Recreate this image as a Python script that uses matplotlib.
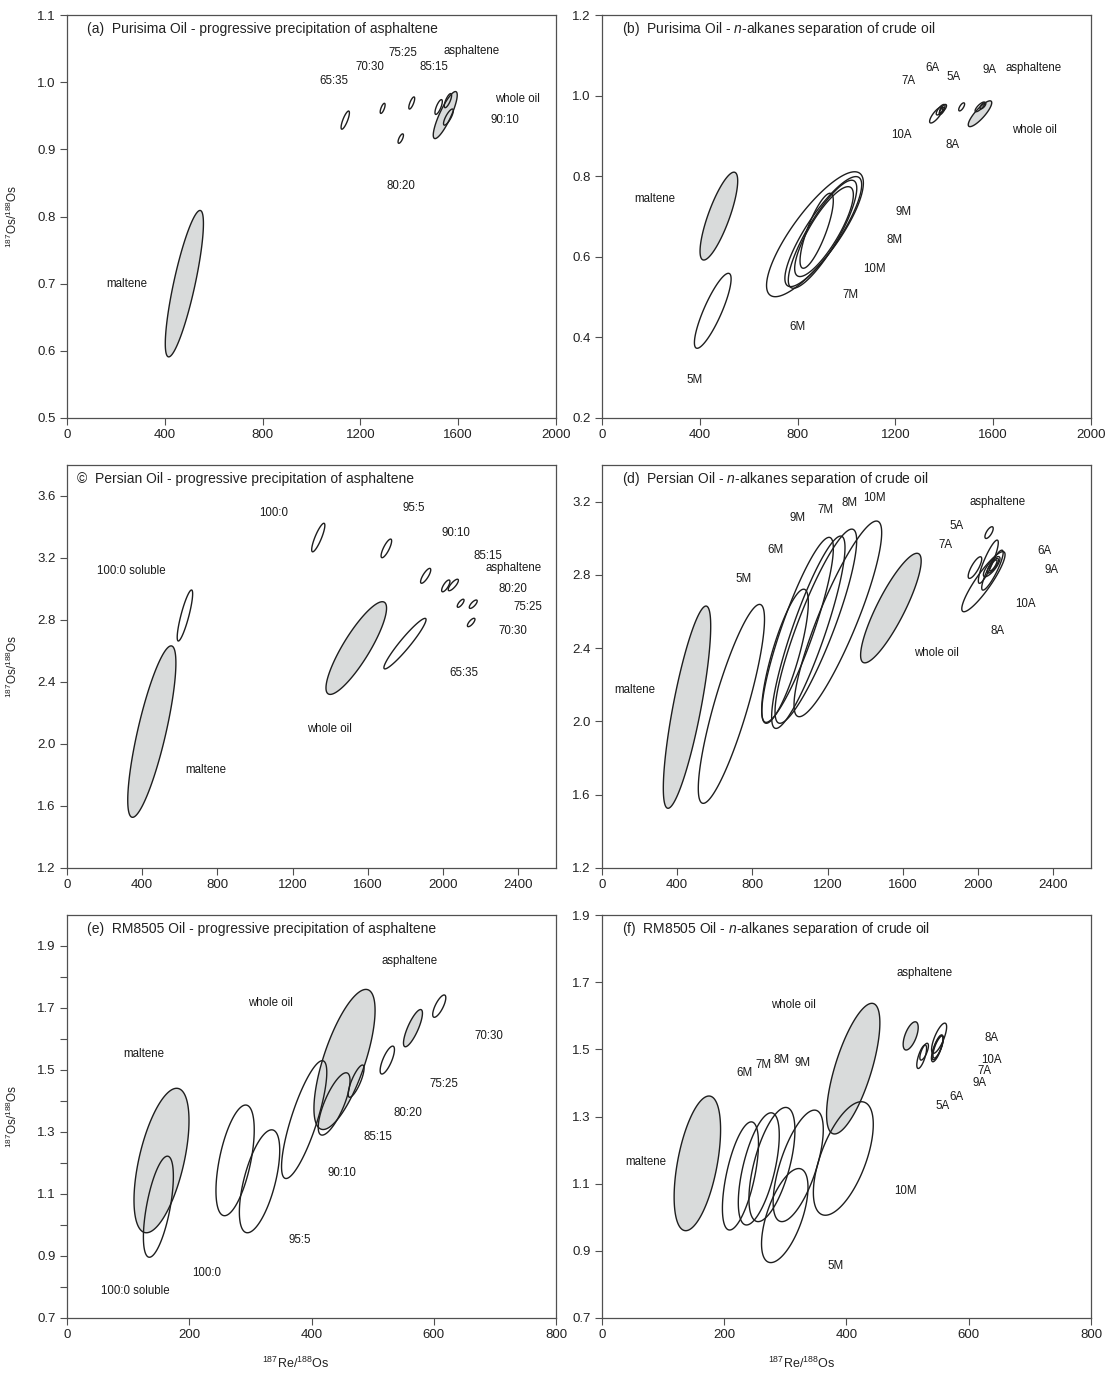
import numpy as np
import matplotlib
matplotlib.use("Agg")
from matplotlib import pyplot as plt
from matplotlib.patches import Polygon

plt.rcParams['font.family'] = ['Liberation Sans', 'DejaVu Sans']
plt.rcParams['mathtext.fontset'] = 'custom'
plt.rcParams['mathtext.rm'] = 'Liberation Sans'
plt.rcParams['mathtext.it'] = 'Liberation Sans:italic'

# ---- data: error ellipses (centre x, centre y, 2s half range x, half range y, rho) ----
# (a) Purisima - progressive precipitation
a_cx = [480, 1547, 1138, 1291, 1410, 1365, 1520, 1558, 1560]
a_cy = [0.700, 0.951, 0.9435, 0.961, 0.969, 0.916, 0.963, 0.9725, 0.948]
a_sx = [78, 49, 17, 10, 12, 11, 15, 15, 20]
a_sy = [0.109, 0.035, 0.0135, 0.0075, 0.009, 0.007, 0.011, 0.0105, 0.012]
a_rho = [0.82, 0.85, 0.8, 0.7, 0.75, 0.7, 0.75, 0.75, 0.8]
a_grey = [0, 1]

# (b) Purisima - n-alkanes separation
b_cx = [478, 1546, 453, 871, 905, 902, 908, 878, 1367, 1385, 1395, 1390, 1471, 1546, 1558]
b_cy = [0.701, 0.955, 0.466, 0.656, 0.6625, 0.656, 0.6625, 0.6646, 0.952, 0.965, 0.968,
        0.962, 0.972, 0.972, 0.975]
b_sx = [77, 48, 75, 198, 157, 140, 120, 68, 27, 18, 14, 11, 12, 20, 12]
b_sy = [0.109, 0.032, 0.093, 0.155, 0.1365, 0.134, 0.1115, 0.093, 0.020, 0.013, 0.010,
        0.009, 0.010, 0.012, 0.008]
b_rho = [0.8, 0.85, 0.85, 0.82, 0.85, 0.85, 0.82, 0.8, 0.8, 0.75, 0.7, 0.7, 0.7, 0.8, 0.7]
b_grey = [0, 1]

# (c) Persian - progressive precipitation
c_cx = [451, 1538, 627, 1797, 1336, 1698, 1907, 2014, 2054, 2093, 2160, 2149]
c_cy = [2.080, 2.619, 2.829, 2.6475, 3.332, 3.262, 3.085, 3.02, 3.026, 2.908, 2.902, 2.784]
c_sx = [128, 161, 41, 112, 35, 28, 27, 22, 27, 18, 21, 20]
c_sy = [0.553, 0.299, 0.1645, 0.163, 0.092, 0.06, 0.048, 0.038, 0.037, 0.026, 0.027, 0.027]
c_rho = [0.8, 0.86, 0.85, 0.95, 0.85, 0.8, 0.8, 0.75, 0.8, 0.75, 0.75, 0.75]
c_grey = [0, 1]

# (d) Persian - n-alkanes separation
d_cx = [452, 1536, 688, 973, 1040, 1097, 1137, 1254, 2058, 2028, 1983, 2054, 2076, 2072,
        2078, 2080]
d_cy = [2.078, 2.619, 2.096, 2.356, 2.50, 2.487, 2.52, 2.56, 3.031, 2.763, 2.84, 2.872,
        2.826, 2.845, 2.85, 2.852]
d_sx = [126, 161, 176, 124, 190, 195, 217, 233, 22, 115, 36, 53, 57, 44, 30, 20]
d_sy = [0.552, 0.299, 0.543, 0.366, 0.505, 0.525, 0.53, 0.534, 0.032, 0.164, 0.059, 0.118,
        0.109, 0.055, 0.04, 0.03]
d_rho = [0.8, 0.86, 0.85, 0.8, 0.88, 0.88, 0.88, 0.88, 0.7, 0.9, 0.8, 0.88, 0.88, 0.8,
         0.8, 0.8]
d_grey = [0, 1]

# (e) RM8505 - progressive precipitation
e_cx = [154.6, 454, 566, 149.5, 275, 315, 388, 437, 473, 524, 609]
e_cy = [1.208, 1.534, 1.635, 1.059, 1.2085, 1.141, 1.340, 1.3905, 1.464, 1.532, 1.706]
e_sx = [45, 50, 15.5, 24.5, 31.3, 33, 37, 26, 13, 11.7, 10.7]
e_sy = [0.233, 0.226, 0.06, 0.163, 0.1785, 0.166, 0.19, 0.1005, 0.052, 0.045, 0.036]
e_rho = [0.55, 0.7, 0.8, 0.6, 0.55, 0.6, 0.8, 0.75, 0.8, 0.75, 0.75]
e_grey = [0, 1, 2]

# (f) RM8505 - n-alkanes separation
f_cx = [156, 411, 505, 299, 226.5, 256.5, 278, 321, 394.8, 523, 527, 551.5, 548.5, 549, 550]
f_cy = [1.1605, 1.4425, 1.540, 1.005, 1.123, 1.144, 1.157, 1.153, 1.175, 1.478, 1.493,
        1.533, 1.503, 1.505, 1.507]
f_sx = [38, 43.6, 12.3, 38, 29.5, 33.5, 37.6, 41, 49, 8, 7, 12.3, 9.5, 9, 8.5]
f_sy = [0.2005, 0.1945, 0.042, 0.14, 0.161, 0.167, 0.17, 0.166, 0.169, 0.035, 0.025,
        0.045, 0.04, 0.036, 0.033]
f_rho = [0.5, 0.7, 0.6, 0.6, 0.6, 0.6, 0.6, 0.65, 0.6, 0.7, 0.7, 0.75, 0.75, 0.75, 0.75]
f_grey = [0, 1, 2]

# ---- text labels ----
a_text = ['65:35', '70:30', '75:25', '85:15', 'asphaltene', 'whole oil', '90:10', '80:20',
          'maltene']
b_text = ['6A', '7A', '5A', '9A', 'asphaltene', '10A', '8A', 'whole oil', 'maltene', '9M',
          '8M', '10M', '7M', '6M', '5M']
c_text = ['100:0', '95:5', '90:10', '85:15', 'asphaltene', '80:20', '75:25', '70:30',
          '65:35', '100:0 soluble', 'whole oil', 'maltene']
d_text = ['9M', '7M', '8M', '10M', '6M', '5M', 'asphaltene', '5A', '7A', '6A', '9A', '10A',
          '8A', 'whole oil', 'maltene']
e_text = ['asphaltene', 'whole oil', 'maltene', '70:30', '75:25', '80:20', '85:15', '90:10',
          '95:5', '100:0', '100:0 soluble']
f_text = ['asphaltene', 'whole oil', '6M', '7M', '8M', '9M', 'maltene', '10M', '5M', '8A',
          '10A', '7A', '9A', '6A', '5A']

# label positions (data coords)
a_pos = [(1092, 1.002), (1239, 1.023), (1373, 1.044), (1501, 1.023), (1656, 1.047),
         (1841, 0.975), (1791, 0.943), (1365, 0.845), (244, 0.700)]
b_pos = [(1350, 1.068), (1253, 1.037), (1437, 1.047), (1584, 1.064), (1764, 1.068),
         (1223, 0.902), (1433, 0.877), (1768, 0.915), (217, 0.743), (1235, 0.712),
         (1198, 0.642), (1114, 0.569), (1018, 0.505), (799, 0.427), (380, 0.294)]
c_pos = [(1099, 3.488), (1845, 3.521), (2068, 3.363), (2238, 3.215), (2373, 3.134),
         (2373, 2.998), (2449, 2.886), (2373, 2.731), (2111, 2.456), (340, 3.116),
         (1398, 2.095), (739, 1.832)]
d_pos = [(1039, 3.109), (1186, 3.154), (1314, 3.194), (1448, 3.221), (925, 2.936),
         (751, 2.778), (2101, 3.200), (1886, 3.067), (1828, 2.963), (2355, 2.930),
         (2391, 2.827), (2249, 2.639), (2104, 2.495), (1779, 2.375), (172, 2.172)]
e_pos = [(561, 1.853), (333, 1.715), (126, 1.552), (691, 1.610), (616, 1.455), (557, 1.362),
         (509, 1.283), (449, 1.167), (381, 0.952), (228, 0.844), (111, 0.788)]
f_pos = [(527, 1.728), (313, 1.632), (233, 1.429), (265, 1.453), (293, 1.468), (328, 1.460),
         (72, 1.166), (496, 1.079), (382, 0.855), (637, 1.533), (637, 1.468), (625, 1.434),
         (618, 1.399), (580, 1.359), (557, 1.331)]

titles = ['(a)  Purisima Oil - progressive precipitation of asphaltene',
          '(b)  Purisima Oil - $\\it{n}$-alkanes separation of crude oil',
          '\u00a9  Persian Oil - progressive precipitation of asphaltene',
          '(d)  Persian Oil - $\\it{n}$-alkanes separation of crude oil',
          '(e)  RM8505 Oil - progressive precipitation of asphaltene',
          '(f)  RM8505 Oil - $\\it{n}$-alkanes separation of crude oil']

grey = '#d9dbdb'
spine_col = '#505050'


def draw_ellipse(ax, cx, cy, sx, sy, rho, filled):
    # error ellipse from the x / y half ranges and the correlation
    t = np.linspace(0, 2 * np.pi, 240, endpoint=False)
    x = cx + sx * np.cos(t)
    y = cy + sy * (rho * np.cos(t) + np.sqrt(1 - rho ** 2) * np.sin(t))
    poly = Polygon(np.column_stack([x, y]), closed=True,
                   facecolor=grey if filled else 'none', edgecolor='#1e1e1e',
                   lw=1.0, zorder=2 if filled else 4, joinstyle='round')
    ax.add_patch(poly)


fig = plt.figure(figsize=(11.17, 13.74), dpi=100)
W, H = 1117.0, 1374.0
lefts = [67, 602]
bottoms = [418, 868, 1318]

panels = [
    (a_cx, a_cy, a_sx, a_sy, a_rho, a_grey, a_text, a_pos),
    (b_cx, b_cy, b_sx, b_sy, b_rho, b_grey, b_text, b_pos),
    (c_cx, c_cy, c_sx, c_sy, c_rho, c_grey, c_text, c_pos),
    (d_cx, d_cy, d_sx, d_sy, d_rho, d_grey, d_text, d_pos),
    (e_cx, e_cy, e_sx, e_sy, e_rho, e_grey, e_text, e_pos),
    (f_cx, f_cy, f_sx, f_sy, f_rho, f_grey, f_text, f_pos),
]
xlims = [(0, 2000), (0, 2000), (0, 2600), (0, 2600), (0, 800), (0, 800)]
xticks = [np.arange(0, 2001, 400), np.arange(0, 2001, 400), np.arange(0, 2401, 400),
          np.arange(0, 2401, 400), np.arange(0, 801, 200), np.arange(0, 801, 200)]
ylims = [(0.5, 1.1), (0.2, 1.2), (1.2, 3.8), (1.2, 3.4), (0.7, 2.0), (0.7, 1.9)]
yticks = [np.arange(0.5, 1.101, 0.1), np.arange(0.2, 1.201, 0.2), np.arange(1.2, 3.601, 0.4),
          np.arange(1.2, 3.201, 0.4), np.arange(0.7, 1.901, 0.1), np.arange(0.7, 1.901, 0.2)]

for k, (cx, cy, sx, sy, rho, gidx, txt, pos) in enumerate(panels):
    row, col = k // 2, k % 2
    ax = fig.add_axes([lefts[col] / W, 1 - bottoms[row] / H, 489 / W, 403 / H])
    for i in range(len(cx)):
        draw_ellipse(ax, cx[i], cy[i], sx[i], sy[i], rho[i], i in gidx)
    for s, (px, py) in zip(txt, pos):
        ax.text(px, py, s, ha='center', va='center', fontsize=8.3, color='#1a1a1a', zorder=5)
    ax.text(0.04 if k != 2 else 0.02, 0.965, titles[k], transform=ax.transAxes,
            ha='left', va='center', fontsize=10, color='#222222')
    ax.set_xlim(*xlims[k])
    ax.set_ylim(*ylims[k])
    ax.set_xticks(xticks[k])
    ax.set_yticks(yticks[k])
    if k == 4:
        ax.set_yticklabels(['%.1f' % v if round(v * 10) % 2 == 1 else '' for v in yticks[k]])
    else:
        ax.set_yticklabels(['%.1f' % v for v in yticks[k]])
    ax.set_xticklabels(['%d' % v for v in xticks[k]])
    for sp in ax.spines.values():
        sp.set_color(spine_col)
        sp.set_linewidth(0.9)
    ax.tick_params(direction='out', length=5, width=0.8, color=spine_col,
                   labelsize=9.5, labelcolor='#222222', pad=3)

# axis titles
ylab = '$^{187}$Os/$^{188}$Os'
for yc in [216.5, 666.5, 1116.5]:
    fig.text(12 / W, 1 - yc / H, ylab, rotation=90, ha='center', va='center',
             fontsize=8.5, color='#222222')
xlab = '$^{187}$Re/$^{188}$Os'
fig.text(296 / W, 1 - 1363 / H, xlab, ha='center', va='center', fontsize=9, color='#222222')
fig.text(802 / W, 1 - 1363 / H, xlab, ha='center', va='center', fontsize=9, color='#222222')

fig.savefig('out.png', dpi=100)
